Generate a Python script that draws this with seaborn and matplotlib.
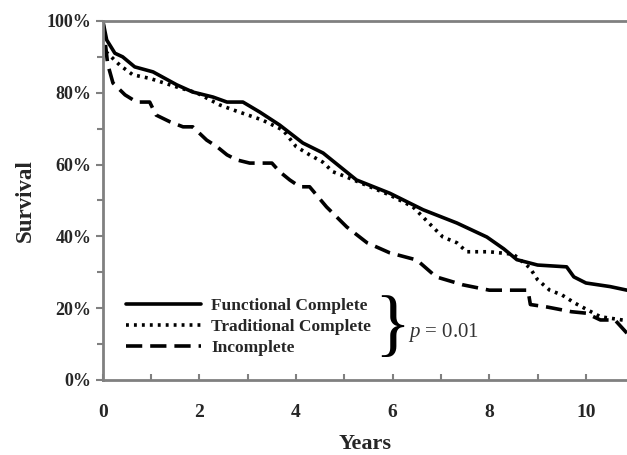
import numpy as np
import pandas as pd
import matplotlib
matplotlib.use("Agg")
import matplotlib.pyplot as plt
import seaborn as sns
from matplotlib.ticker import MultipleLocator, FuncFormatter

# ---- data ----
func_t = [0, 0.08, 0.25, 0.41, 0.66, 1.04, 1.53, 1.86, 2.28, 2.57, 2.9, 3.25, 3.66, 4.14, 4.56,
          5.25, 5.94, 6.63, 7.33, 7.95, 8.3, 8.57, 9.0, 9.6, 9.75, 10.0, 10.5, 10.85]
func_s = [100, 94.7, 91, 90, 87.2, 85.8, 82.2, 80.2, 78.8, 77.4, 77.4, 74.6, 71, 66, 63.2,
          55.7, 52, 47.4, 43.7, 39.8, 36.5, 33.5, 32, 31.5, 28.7, 27, 26, 25]

trad_t = [0, 0.02, 0.35, 0.62, 0.97, 1.53, 1.94, 2.42, 2.7, 3.3, 3.73, 4.0, 4.28, 4.55, 4.76,
          5.05, 5.94, 6.42, 6.83, 7.04, 7.33, 7.53, 8.0, 8.5, 8.84, 9.0, 9.25, 9.5, 9.77, 10.3, 10.85]
trad_s = [100, 92, 87.7, 85, 84, 81.6, 80, 76.6, 75.2, 72.4, 69.6, 65, 62.7, 60.7, 58,
          56.5, 51.5, 48.2, 42.6, 39.8, 38.2, 35.7, 35.7, 35, 31.2, 27.9, 25, 23.7, 21.4, 17.6, 16.5]

inc_t = [0, 0.1, 0.21, 0.46, 0.7, 0.97, 1.1, 1.39, 1.66, 1.86, 2.15, 2.36, 2.57, 2.77, 3.04, 3.5,
         3.66, 3.87, 4.08, 4.28, 4.63, 5.05, 5.47, 5.94, 6.5, 6.9, 7.45, 8.0, 8.4, 8.8, 8.85,
         9.2, 9.7, 10.0, 10.3, 10.6, 10.85]
inc_s = [100, 88, 82.7, 79.4, 77.4, 77.4, 73.8, 71.9, 70.5, 70.5, 66.8, 65, 62.7, 61.3, 60.4, 60.4,
         58, 55.7, 53.8, 53.8, 48.2, 42.6, 38.2, 35.4, 33.4, 28.7, 26.5, 25, 25, 25, 21,
         20.3, 19, 18.6, 16.7, 16.7, 13]

groups = ["Functional Complete", "Traditional Complete", "Incomplete"]
y_ticks = [0, 20, 40, 60, 80, 100]
x_ticks = [0, 2, 4, 6, 8, 10]

df = pd.concat([
    pd.DataFrame({"Years": func_t, "Survival": func_s, "Group": groups[0]}),
    pd.DataFrame({"Years": trad_t, "Survival": trad_s, "Group": groups[1]}),
    pd.DataFrame({"Years": inc_t, "Survival": inc_s, "Group": groups[2]}),
], ignore_index=True)

sns.set_style("white")
plt.rcParams["font.family"] = ["Liberation Serif", "DejaVu Serif"]
plt.rcParams["mathtext.fontset"] = "custom"
plt.rcParams["mathtext.rm"] = "Liberation Serif"
plt.rcParams["mathtext.it"] = "Liberation Serif:italic"

fig = plt.figure(figsize=(6.27, 4.55), dpi=100)
ax = fig.add_axes([0.164, 0.165, 0.836, 0.789])

dashes = {groups[0]: "", groups[1]: (0.8, 1.4), groups[2]: (4.5, 2.2)}
sns.lineplot(data=df, x="Years", y="Survival", hue="Group", style="Group",
             palette=["black", "black", "black"], dashes=dashes, estimator=None,
             sort=False, linewidth=2.6, ax=ax, legend=True)

ax.set_xlim(0, 10.85)
ax.set_ylim(0, 100)

grey = "#808080"
for side in ["top", "left", "bottom"]:
    ax.spines[side].set_color(grey)
    ax.spines[side].set_linewidth(2)
ax.spines["right"].set_visible(False)

ax.set_yticks(y_ticks)
ax.yaxis.set_minor_locator(MultipleLocator(10))
ax.yaxis.set_major_formatter(FuncFormatter(lambda v, p: f"{int(v)}%"))
ax.set_xticks(x_ticks)
ax.xaxis.set_minor_locator(MultipleLocator(1))

ax.tick_params(axis="y", which="both", direction="out", color=grey, width=1.5, left=True)
ax.tick_params(axis="y", which="major", length=5, pad=3, labelsize=13)
ax.tick_params(axis="y", which="minor", length=4)
ax.tick_params(axis="x", which="both", direction="in", color=grey, width=1.5, bottom=True, length=4)
ax.tick_params(axis="x", which="major", pad=17, labelsize=14)
for lab in ax.get_xticklabels() + ax.get_yticklabels():
    lab.set_fontweight("bold")

ax.set_xlabel("Years", fontsize=16, fontweight="bold", labelpad=10)
ax.set_ylabel("Survival", fontsize=16.5, fontweight="bold", labelpad=8)

handles, labels = ax.get_legend_handles_labels()
leg = ax.legend(handles, labels, loc="upper left", bbox_to_anchor=(0.028, 0.253),
                frameon=False, handlelength=4.3, handletextpad=0.6, labelspacing=0.28,
                borderpad=0, prop={"family": "Liberation Serif", "weight": "bold", "size": 12.5})
for line in leg.get_lines():
    line.set_linewidth(2.6)

ax.text(0.552, 0.142, "}", transform=ax.transAxes, ha="center", va="center",
        fontsize=54, fontfamily="Liberation Serif", color="black")
ax.text(0.582, 0.131, "$p$ = 0.01", transform=ax.transAxes, ha="left", va="center",
        fontsize=15, color="#333333")

fig.savefig("out.png", dpi=100)
